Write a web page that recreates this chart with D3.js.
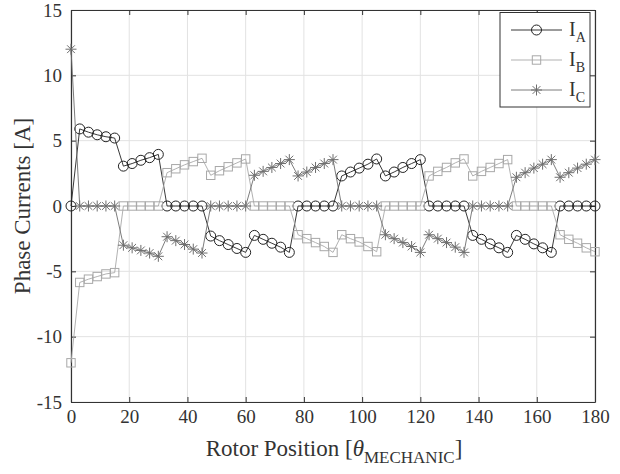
<!DOCTYPE html>
<html><head><meta charset="utf-8">
<script src="https://cdn.jsdelivr.net/npm/d3@7"></script>
<style>body{margin:0;background:#fff}</style>
</head><body>
<svg id="c" width="620" height="474"></svg>
<script>
// Rotor position (mechanical degrees)
const theta = [0,3,6,9,12,15,18,21,24,27,30,33,36,39,42,45,48,51,54,57,60,
  63,66,69,72,75,78,81,84,87,90,93,96,99,102,105,108,111,114,117,120,
  123,126,129,132,135,138,141,144,147,150,153,156,159,162,165,168,171,174,177,180];
// Phase currents [A]
const iA = [0,
  5.9,5.65,5.45,5.3,5.2,
  3.05,3.25,3.5,3.7,3.95,
  0,0,0,0,0,
  -2.3,-2.65,-2.95,-3.25,-3.55,
  -2.25,-2.55,-2.85,-3.15,-3.55,
  0,0,0,0,0,
  2.3,2.6,2.9,3.2,3.6,
  2.3,2.6,2.95,3.25,3.55,
  0,0,0,0,0,
  -2.25,-2.55,-2.9,-3.2,-3.55,
  -2.25,-2.55,-2.9,-3.2,-3.55,
  0,0,0,0,0];
const iB = [-12,
  -5.85,-5.6,-5.4,-5.2,-5.1,
  0,0,0,0,0,
  2.55,2.85,3.15,3.4,3.65,
  2.35,2.7,3.0,3.3,3.6,
  0,0,0,0,0,
  -2.2,-2.5,-2.8,-3.1,-3.55,
  -2.2,-2.5,-2.75,-3.1,-3.5,
  0,0,0,0,0,
  2.3,2.65,2.95,3.3,3.6,
  2.3,2.65,2.95,3.25,3.55,
  0,0,0,0,0,
  -2.2,-2.55,-2.85,-3.2,-3.5];
const iC = [12,
  0,0,0,0,0,
  -3.0,-3.2,-3.4,-3.6,-3.85,
  -2.35,-2.65,-2.95,-3.3,-3.6,
  0,0,0,0,0,
  2.35,2.65,2.95,3.25,3.55,
  2.3,2.6,2.95,3.25,3.55,
  0,0,0,0,0,
  -2.2,-2.5,-2.8,-3.1,-3.55,
  -2.2,-2.5,-2.8,-3.15,-3.55,
  0,0,0,0,0,
  2.2,2.55,2.9,3.2,3.55,
  2.2,2.55,2.9,3.2,3.55];
const seriesNames = ["A","B","C"];
const xTicks = [0,20,40,60,80,100,120,140,160,180];
const yTicks = [-15,-10,-5,0,5,10,15];

const FONT = "'Liberation Serif'";
const TXT = "#333";
const svg = d3.select("#c");
const x = d3.scaleLinear().domain([0,180]).range([71,595]);
const y = d3.scaleLinear().domain([-15,15]).range([402,10]);
const axisCol = "#333";

// grid
const g = svg.append("g");
g.selectAll(".gx").data(xTicks).join("line")
  .attr("x1",d=>x(d)).attr("x2",d=>x(d)).attr("y1",y(-15)).attr("y2",y(15))
  .attr("stroke","#e2e2e2").attr("stroke-width",1);
g.selectAll(".gy").data(yTicks).join("line")
  .attr("y1",d=>y(d)).attr("y2",d=>y(d)).attr("x1",x(0)).attr("x2",x(180))
  .attr("stroke","#e2e2e2").attr("stroke-width",1);

// axes
const fmt = d => String(d);
function styleAxis(sel){
  sel.select(".domain").attr("stroke",axisCol).attr("stroke-width",1.2);
  sel.selectAll(".tick line").attr("stroke",axisCol).attr("stroke-width",1);
  sel.selectAll(".tick text").attr("fill",TXT)
    .style("font-family",FONT).style("font-size","19px");
}
svg.append("g").attr("transform",`translate(0,${y(-15)})`)
  .call(d3.axisBottom(x).tickValues(xTicks).tickFormat(fmt).tickSize(-5).tickSizeOuter(0).tickPadding(8))
  .call(styleAxis);
svg.append("g").attr("transform",`translate(0,${y(15)})`)
  .call(d3.axisTop(x).tickValues(xTicks).tickSize(-5).tickSizeOuter(0).tickFormat(""))
  .call(styleAxis);
svg.append("g").attr("transform",`translate(${x(0)},0)`)
  .call(d3.axisLeft(y).tickValues(yTicks).tickFormat(fmt).tickSize(-5).tickSizeOuter(0).tickPadding(9))
  .call(styleAxis);
svg.append("g").attr("transform",`translate(${x(180)},0)`)
  .call(d3.axisRight(y).tickValues(yTicks).tickSize(-5).tickSizeOuter(0).tickFormat(""))
  .call(styleAxis);

// series
const series = [
  {name:"A", vals:iA, col:"#222", marker:"circle"},
  {name:"B", vals:iB, col:"#a8a8a8", marker:"square"},
  {name:"C", vals:iC, col:"#6e6e6e", marker:"star"}
];
const line = d3.line().x(d=>x(d[0])).y(d=>y(d[1]));
function drawMarker(sel, type, col){
  if(type==="circle"){
    sel.append("circle").attr("r",5).attr("fill","none").attr("stroke",col).attr("stroke-width",1);
  } else if(type==="square"){
    sel.append("rect").attr("x",-4.2).attr("y",-4.2).attr("width",8.4).attr("height",8.4)
      .attr("fill","none").attr("stroke",col).attr("stroke-width",1);
  } else {
    const r=5.5, d=r*0.7071;
    sel.append("path").attr("d",`M${-r},0L${r},0M0,${-r}L0,${r}M${-d},${-d}L${d},${d}M${-d},${d}L${d},${-d}`)
      .attr("stroke",col).attr("stroke-width",1).attr("fill","none");
  }
}
series.forEach(s=>{
  const pts = theta.map((t,i)=>[t,s.vals[i]]);
  svg.append("path").datum(pts).attr("d",line).attr("fill","none")
    .attr("stroke",s.col).attr("stroke-width",0.9);
  const mg = svg.append("g");
  pts.forEach(p=>{
    const m = mg.append("g").attr("transform",`translate(${x(p[0])},${y(p[1])})`);
    drawMarker(m, s.marker, s.col);
  });
});

// legend
const lg = svg.append("g");
lg.append("rect").attr("x",500).attr("y",12.5).attr("width",90).attr("height",94.5)
  .attr("fill","#fff").attr("stroke",axisCol).attr("stroke-width",1);
series.forEach((s,i)=>{
  const yy = 30 + i*30;
  lg.append("line").attr("x1",511).attr("x2",562).attr("y1",yy).attr("y2",yy)
    .attr("stroke",s.col).attr("stroke-width",0.9);
  const m = lg.append("g").attr("transform",`translate(536.5,${yy})`);
  drawMarker(m, s.marker, s.col);
  const t = lg.append("text").attr("x",569).attr("y",yy+6).attr("fill",TXT)
    .style("font-family",FONT).style("font-size","20px");
  t.append("tspan").text("I");
  t.append("tspan").attr("dy",6).style("font-size","14px").text(s.name);
});

// axis titles
const xt = svg.append("text").attr("x",334).attr("y",456).attr("text-anchor","middle").attr("fill",TXT)
  .style("font-family",FONT).style("font-size","23px");
xt.append("tspan").text("Rotor Position [");
xt.append("tspan").style("font-style","italic").text("θ");
xt.append("tspan").attr("dy",7).style("font-size","17px").text("MECHANIC");
xt.append("tspan").attr("dy",-7).text("]");

svg.append("text").attr("transform","translate(30,206) rotate(-90)").attr("fill",TXT)
  .style("font-family",FONT).style("font-size","23px")
  .attr("text-anchor","middle").text("Phase Currents [A]");
</script>
</body></html>
